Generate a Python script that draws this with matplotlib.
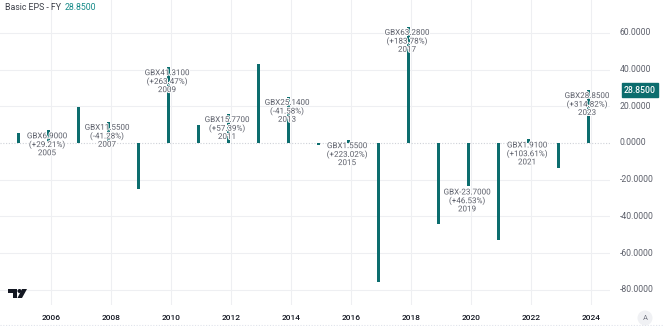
import matplotlib
matplotlib.use("Agg")
import matplotlib.pyplot as plt
import matplotlib.patheffects as pe
from matplotlib.patches import Circle, Polygon

fiscal_years = [2004, 2005, 2006, 2007, 2008, 2009, 2010, 2011, 2012, 2013,
                2014, 2015, 2016, 2017, 2018, 2019, 2020, 2021, 2022, 2023]
eps = [5.34, 6.90, 19.67, 11.55, -25.27, 41.31, 10.02, 15.77, 43.03, 25.14,
       -1.26, 1.55, -75.53, 63.28, -44.32, -23.70, -52.91, 1.91, -13.43, 28.85]
labeled_years = [2005, 2007, 2009, 2011, 2013, 2015, 2017, 2019, 2021, 2023]
label_changes = ["+29.21%", "-41.28%", "+263.47%", "+57.39%", "-41.58%",
                 "+223.02%", "+183.78%", "+46.53%", "+103.61%", "+314.82%"]
x_ticks = [2006, 2008, 2010, 2012, 2014, 2016, 2018, 2020, 2022, 2024]
y_ticks = [-80, -60, -40, -20, 0, 20, 40, 60]
title = "Basic EPS - FY"
last_value = "28.8500"

TEAL = "#0c6d6e"
GRID = "#eeeff2"
FONT = "Roboto"

W, H = 663, 326
fig = plt.figure(figsize=(W / 100, H / 100), dpi=100)
plot_right = 610 / W
plot_bottom = (H - 305) / H
ax = fig.add_axes([0, plot_bottom, plot_right, 1 - plot_bottom])

# bars placed at fiscal year end (just before Jan 1 of next year)
xpos = [fy + 0.93 for fy in fiscal_years]
ax.bar(xpos, eps, width=0.1, color=TEAL, zorder=3)

ax.set_xlim(2004.3, 2024.63)
ax.set_ylim(-88.3, 77.9)

for xt in x_ticks:
    ax.axvline(xt, color=GRID, lw=0.8, zorder=0)
for yt in y_ticks:
    if yt == 0:
        ax.axhline(0, color="#cfd2d8", lw=0.8, ls=(0, (1, 1.5)), zorder=1)
    else:
        ax.axhline(yt, color=GRID, lw=0.8, zorder=0)

for s in ax.spines.values():
    s.set_visible(False)
ax.set_xticks([])
ax.set_yticks([])

# annotations
for fy, ch in zip(labeled_years, label_changes):
    i = fiscal_years.index(fy)
    v = eps[i]
    txt = f"GBX{v:.4f}\n({ch})\n{fy}"
    ax.annotate(txt, xy=(xpos[i], v), xytext=(-2, -3), textcoords="offset pixels",
                ha="center", va="top", fontsize=5.8, color="#5d606b",
                family=FONT, linespacing=1.3, zorder=5,
                path_effects=[pe.withStroke(linewidth=1.4, foreground="white")])

# x tick labels
for xt in x_ticks:
    xf = ax.transData.transform((xt, 0))[0]
    fig.text(xf / W, 1 - 318 / H, str(xt), ha="center", va="center",
             fontsize=6, color="#131722", family=FONT, fontweight="medium")

# y tick labels on the right
for yt in y_ticks:
    yf = ax.transData.transform((0, yt))[1]
    fig.text(620 / W, yf / H, f"{yt:.4f}", ha="left", va="center",
             fontsize=6.2, color="#5d606b", family=FONT)

# last value box
yf = ax.transData.transform((0, eps[-1]))[1]
fig.text(624 / W, yf / H, last_value, ha="left", va="center",
         fontsize=6.2, color="white", family=FONT, fontweight="medium",
         bbox=dict(boxstyle="square,pad=0.25", fc=TEAL, ec=TEAL))

# title
t = fig.text(5 / W, 1 - 7 / H, title, ha="left", va="center", fontsize=6.3,
             color="#3c3f48", family=FONT)
fig.canvas.draw()
bb = t.get_window_extent()
fig.text((bb.x1 + 4) / W, 1 - 7 / H, last_value, ha="left", va="center", fontsize=6.3,
         color="#158a88", family=FONT)

# overlay axes in pixel coordinates for decorations
ov = fig.add_axes([0, 0, 1, 1], facecolor="none")
ov.set_xlim(0, W)
ov.set_ylim(H, 0)
ov.axis("off")
# logo-like mark
ov.add_patch(Polygon([(8, 289), (17, 289), (17, 298), (13, 298), (13, 293), (8, 293)],
                     closed=True, fc="#131722", ec="none"))
ov.add_patch(Circle((19.5, 291), 2, fc="#131722", ec="none"))
ov.add_patch(Polygon([(22, 289), (27, 289), (22, 298), (17.5, 298)],
                     closed=True, fc="#131722", ec="none"))
# auto-scale "A" circle
ov.add_patch(Circle((645, 318), 7.5, fc="#f0f1f4", ec="none"))
ov.text(645, 318.5, "A", ha="center", va="center", fontsize=5.5,
        color="#787b86", family=FONT)
ov.plot([0, W], [324.5, 324.5], color="#e0e3eb", lw=0.8, ls=(0, (1, 1.5)))

fig.savefig("out.png", dpi=100)
